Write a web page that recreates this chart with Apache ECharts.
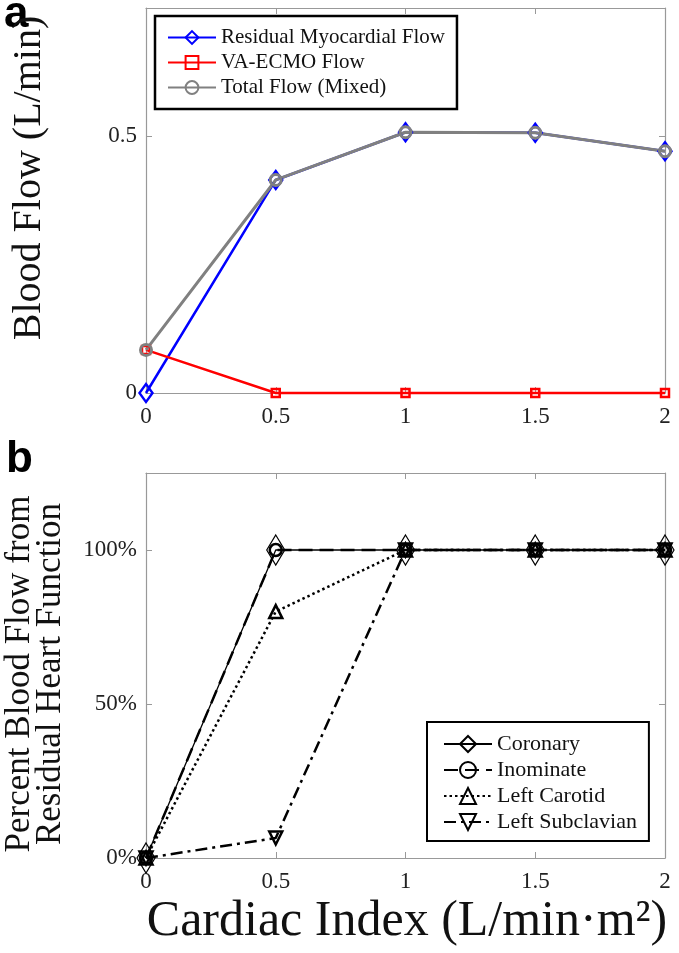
<!DOCTYPE html>
<html>
<head>
<meta charset="utf-8">
<script src="https://cdn.jsdelivr.net/npm/echarts@6/dist/echarts.min.js"></script>
<style>
  html, body { margin: 0; padding: 0; background: #fff; }
  #chart { width: 679px; height: 953px; }
</style>
</head>
<body>
<div id="chart"></div>
<script>
// cardiac index (x axis of both panels)
var cardiacIndex = [0, 0.5, 1, 1.5, 2]

// panel a: blood flow (L/min)
var residualFlow = [0, 0.415, 0.508, 0.507, 0.471]
var ecmoFlow = [0.084, 0, 0, 0, 0]
var totalFlow = [0.084, 0.415, 0.508, 0.507, 0.471]

// panel b: percent of flow from residual heart function
var coronaryPct = [0, 100, 100, 100, 100]
var inominatePct = [0, 100, 100, 100, 100]
var leftCarotidPct = [0, 80, 100, 100, 100]
var leftSubclavianPct = [0, 6.5, 100, 100, 100]

var flowTicks = [0, 0.5]
var pctTicks = [0, 50, 100]

var serif = 'Liberation Serif'
var axisGrey = '#999'

function pairs(ys) {
  return cardiacIndex.map(function (x, i) { return [x, ys[i]] })
}

function xAxisPair(grid) {
  var base = {
    type: 'value', gridIndex: grid, min: 0, max: 2, interval: 0.5,
    splitLine: { show: false },
    axisLine: { show: true, onZero: false, lineStyle: { color: axisGrey, width: 1.2 } },
    axisTick: { inside: true, length: 6, lineStyle: { color: axisGrey } }
  }
  var bottom = Object.assign({}, base, {
    position: 'bottom',
    axisLabel: { margin: 12, color: '#222', fontFamily: serif, fontSize: 23 }
  })
  var top = Object.assign({}, base, { position: 'top', axisLabel: { show: false } })
  return [bottom, top]
}

function yAxisPair(grid, max, ticks, fmt) {
  var base = {
    type: 'value', gridIndex: grid, min: 0, max: max, interval: ticks[1] - ticks[0],
    splitLine: { show: false },
    axisLine: { show: true, onZero: false, lineStyle: { color: axisGrey, width: 1.2 } },
    axisTick: {
      inside: true, length: 6, lineStyle: { color: axisGrey },
      customValues: ticks
    }
  }
  var left = Object.assign({}, base, {
    position: 'left',
    axisLabel: {
      margin: 9, color: '#222', fontFamily: serif, fontSize: 23,
      customValues: ticks,
      formatter: function (v) { return ticks.indexOf(v) >= 0 ? fmt(v) : '' }
    }
  })
  var right = Object.assign({}, base, { position: 'right', axisLabel: { show: false } })
  return [left, right]
}

function lineSeries(name, data, xi, yi, color, width, dash, symbol, size, rotate) {
  return {
    name: name, type: 'line', xAxisIndex: xi, yAxisIndex: yi,
    data: pairs(data), clip: false,
    symbol: symbol, symbolSize: size, symbolRotate: rotate || 0,
    showAllSymbol: true,
    lineStyle: { color: color, width: width, type: dash },
    itemStyle: { color: 'rgba(255,255,255,0)', borderColor: color, borderWidth: width },
    emphasis: { disabled: true }
  }
}

var chart = echarts.init(document.getElementById('chart'))

var xa = xAxisPair(0)
var xb = xAxisPair(1)
var ya = yAxisPair(0, 0.75, flowTicks, function (v) { return String(v) })
var yb = yAxisPair(1, 125, pctTicks, function (v) { return v + '%' })

chart.setOption({
  animation: false,
  backgroundColor: '#fff',
  grid: [
    { left: 146, right: 14, top: 8, bottom: 560 },
    { left: 146, right: 14, top: 473, bottom: 95 }
  ],
  xAxis: [xa[0], xa[1], xb[0], xb[1]],
  yAxis: [ya[0], ya[1], yb[0], yb[1]],
  legend: [
    {
      data: ['Residual Myocardial Flow', 'VA-ECMO Flow', 'Total Flow (Mixed)'],
      orient: 'vertical', left: 155, top: 16,
      padding: [11, 12, 11, 12], itemGap: 4, itemWidth: 48, itemHeight: 16,
      borderColor: '#000', borderWidth: 2.5, backgroundColor: '#fff',
      selectedMode: false,
      textStyle: { fontFamily: serif, fontSize: 21, color: '#111' }
    },
    {
      data: ['Coronary', 'Inominate', 'Left Carotid', 'Left Subclavian'],
      orient: 'vertical', left: 427, top: 722,
      padding: [11, 12, 8, 16], itemGap: 4, itemWidth: 48, itemHeight: 20,
      borderColor: '#000', borderWidth: 2, backgroundColor: '#fff',
      selectedMode: false,
      textStyle: { fontFamily: serif, fontSize: 22, color: '#111' }
    }
  ],
  graphic: [
    { type: 'text', left: 4, top: -7, style: { text: 'a', font: 'bold 44px "Liberation Sans"', fill: '#000' } },
    { type: 'text', left: 6, top: 438, style: { text: 'b', font: 'bold 44px "Liberation Sans"', fill: '#000' } },
    {
      type: 'text', x: 29, y: 178, rotation: Math.PI / 2,
      style: { text: 'Blood Flow (L/min)', font: '40px "Liberation Serif"', fill: '#111', align: 'center', verticalAlign: 'middle' }
    },
    {
      type: 'text', x: 35, y: 674, rotation: Math.PI / 2,
      style: {
        text: 'Percent Blood Flow from\nResidual Heart Function', font: '35px "Liberation Serif"',
        lineHeight: 31, fill: '#111', align: 'center', verticalAlign: 'middle'
      }
    },
    {
      type: 'text', x: 407, y: 922,
      style: { text: 'Cardiac Index (L/min\u00b7m\u00b2)', font: '50px "Liberation Serif"', fill: '#111', align: 'center', verticalAlign: 'middle' }
    }
  ],
  series: [
    lineSeries('Residual Myocardial Flow', residualFlow, 0, 0, '#0000ff', 2.5, 'solid', 'diamond', [13, 18]),
    lineSeries('VA-ECMO Flow', ecmoFlow, 0, 0, '#ff0000', 2.5, 'solid', 'rect', 8),
    lineSeries('Total Flow (Mixed)', totalFlow, 0, 0, '#808080', 3, 'solid', 'circle', 11),
    lineSeries('Coronary', coronaryPct, 2, 2, '#000', 1.3, 'solid', 'diamond', [18, 30]),
    lineSeries('Inominate', inominatePct, 2, 2, '#000', 2.5, [14, 7], 'circle', 12),
    lineSeries('Left Carotid', leftCarotidPct, 2, 2, '#000', 2.5, [2.5, 3], 'triangle', 13),
    lineSeries('Left Subclavian', leftSubclavianPct, 2, 2, '#000', 2.5, [12, 5, 3, 5], 'triangle', 13, 180)
  ]
})
</script>
</body>
</html>
